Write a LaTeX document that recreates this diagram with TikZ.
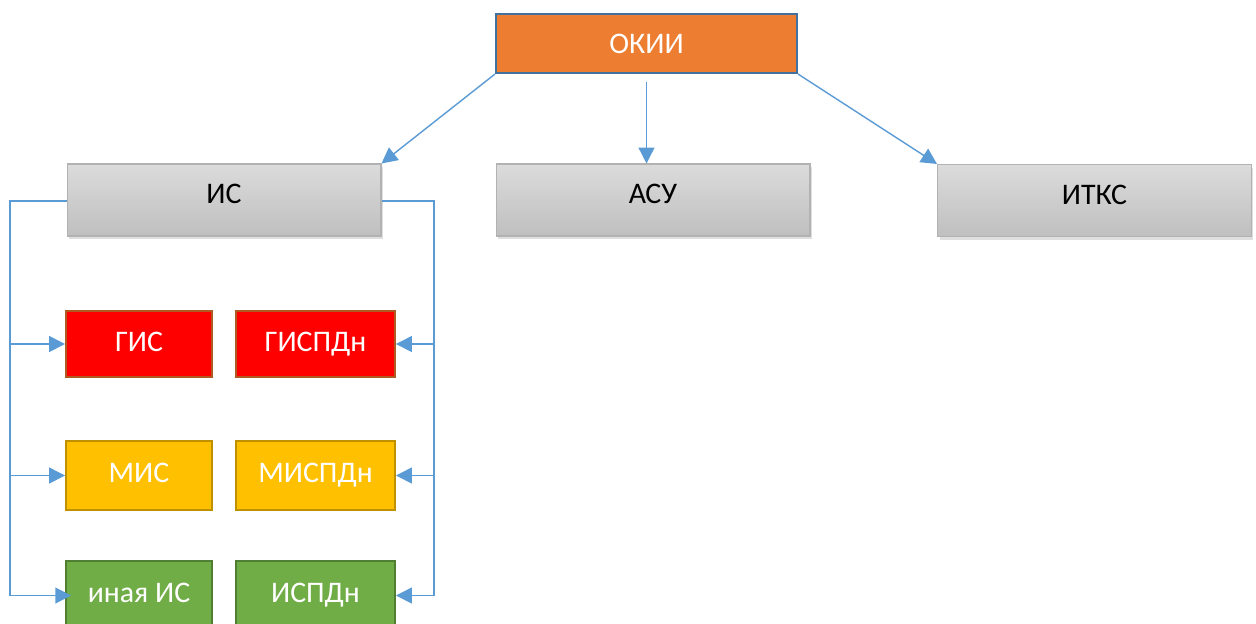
\documentclass[tikz,border=0pt]{standalone}
\usepackage{fontspec}
\setmainfont{Carlito}
\usepackage{tikz}
\usetikzlibrary{arrows.meta,shadows}
\definecolor{okiiorange}{HTML}{ED7D31}
\definecolor{okiiborder}{HTML}{41719C}
\definecolor{linkblue}{HTML}{5B9BD5}
\definecolor{redborder}{HTML}{AE5A21}
\definecolor{ambfill}{HTML}{FFC000}
\definecolor{ambborder}{HTML}{BF9000}
\definecolor{grnfill}{HTML}{70AD47}
\definecolor{grnborder}{HTML}{507E32}
\tikzset{
  box/.style={rectangle, font=\fontsize{17}{20}\selectfont, align=center, inner sep=0pt,
    text height=12pt, text depth=4pt},
  topbox/.style={box, fill=okiiorange, draw=okiiborder, line width=1.2pt, text=white,
    minimum width=6.02cm, minimum height=1.18cm, text depth=1pt},
  graybox/.style={box, draw=black!30, line width=0.6pt, top color=black!14, bottom color=black!25,
    drop shadow={opacity=0.25, shadow xshift=0.04cm, shadow yshift=-0.06cm},
    minimum width=6.28cm, minimum height=1.44cm, text depth=8pt},
  redbox/.style={box, fill=red, draw=redborder, line width=1.1pt, text=white, minimum height=1.32cm},
  ambbox/.style={box, fill=ambfill, draw=ambborder, line width=1.1pt, text=white, minimum height=1.38cm},
  grnbox/.style={box, fill=grnfill, draw=grnborder, line width=1.1pt, text=white, minimum height=1.38cm},
  link/.style={draw=linkblue, line width=0.8pt},
  arr/.style={link, -{Triangle[length=9pt,width=9pt]}}
}
\begin{document}
\begin{tikzpicture}[x=0.02cm, y=-0.02cm]
\clip (0,0) rectangle (1256,623);
\fill[white] (0,0) rectangle (1256,623);

% top level
\node[topbox] (okii) at (646.5,43.5) {ОКИИ};
\node[graybox] (is) at (224,200) {ИС};
\node[graybox] (asu) at (653,200) {АСУ};
\node[graybox] (itks) at (1094.5,200.5) {ИТКС};

% kinds of IS
\node[redbox, minimum width=2.92cm] (gis) at (139,344) {ГИС};
\node[redbox, minimum width=3.18cm] (gispdn) at (315.5,344) {ГИСПДн};
\node[ambbox, minimum width=2.92cm] (mis) at (139,475.5) {МИС};
\node[ambbox, minimum width=3.18cm] (mispdn) at (315.5,475.5) {МИСПДн};
\node[grnbox, minimum width=2.92cm] (inaya) at (139,595.5) {иная ИС};
\node[grnbox, minimum width=3.18cm] (ispdn) at (315.5,595.5) {ИСПДн};

% links from OKII
\draw[arr] (okii.south west) -- (is.north east);
\draw[arr, shorten <=4.5pt] (okii.south) -- (okii.south |- asu.north);
\draw[arr] (okii.south east) -- (itks.north west);

% buses
\coordinate (lbus) at (10,201);
\coordinate (rbus) at (434,201);
\draw[arr, shorten >=-3.5pt] (is.west |- lbus) -- (lbus) |- (inaya.west);
\draw[arr] (lbus |- gis.west) -- (gis.west);
\draw[arr] (lbus |- mis.west) -- (mis.west);
\draw[arr] (is.east |- rbus) -- (rbus) |- (ispdn.east);
\draw[arr] (rbus |- gispdn.east) -- (gispdn.east);
\draw[arr] (rbus |- mispdn.east) -- (mispdn.east);
\end{tikzpicture}
\end{document}
